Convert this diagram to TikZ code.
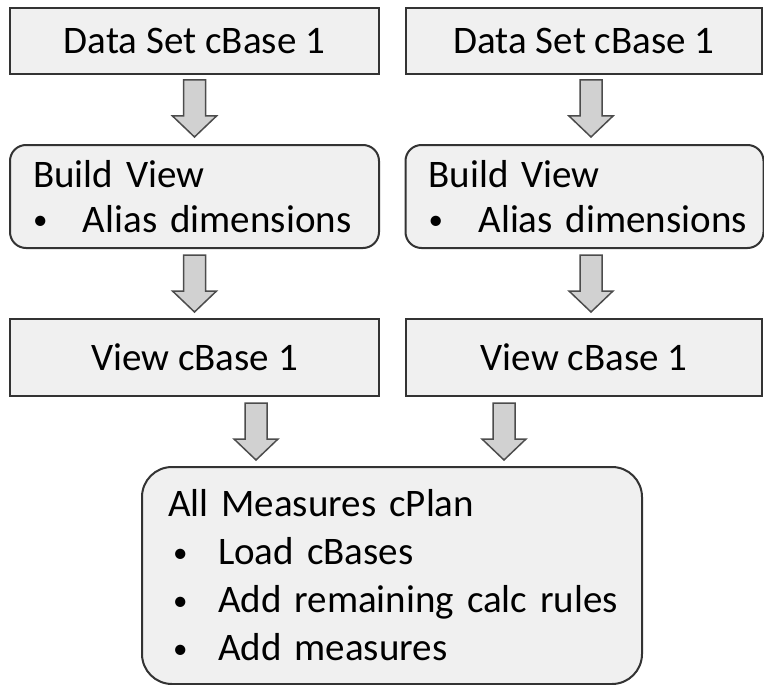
\documentclass[tikz,border=0pt]{standalone}
\usepackage{fontspec}
\setmainfont{Carlito}
\usetikzlibrary{calc}
\tikzstyle{databox} = [rectangle, minimum height=66pt, text centered, draw=black!80, line width=2pt, fill=gray!12, font=\fontsize{39}{45}\selectfont]
\tikzstyle{buildbox} = [rectangle, rounded corners=16pt, minimum height=103pt, draw=black!80, line width=2pt, fill=gray!12, align=left, inner xsep=23pt, font=\fontsize{39}{45}\selectfont]
\tikzstyle{planbox} = [buildbox, rounded corners=30pt, minimum height=217pt, inner xsep=26pt, font=\fontsize{39}{48}\selectfont]
\tikzstyle{flowarrow} = [draw=black!70, line width=1.5pt, fill=gray!36, to path={let \p1=(\tikztostart), \p2=(\tikztotarget) in (\x1-11pt,\y1) -- (\x1+11pt,\y1) -- (\x1+11pt,\y2+21pt) -- (\x1+22pt,\y2+21pt) -- (\x1,\y2) -- (\x1-22pt,\y2+21pt) -- (\x1-11pt,\y2+21pt) -- cycle}]
\newcommand{\bulletline}[2][0pt]{\mbox{\makebox[50pt][l]{\hspace{#1}\raisebox{2.5pt}{\fontsize{29}{29}\selectfont\textbullet}}#2}}

\begin{document}
\begin{tikzpicture}[x=1pt,y=-1pt]
    \useasboundingbox (0,0) rectangle (764,685);
    \node (data1) [databox, minimum width=369pt] at (194.5,41) {Data Set cBase 1};
    \node (data2) [databox, minimum width=356pt] at (584,41) {Data Set cBase 1};
    \node (build1) [buildbox, text width=323pt] at (194.5,196.5) {Build View\\\bulletline{Alias dimensions}};
    \node (build2) [buildbox, text width=312pt] at (584.5,196.5) {Build View\\\bulletline{Alias dimensions}};
    \node (view1) [databox, minimum width=369pt, minimum height=77pt] at (194.5,357.5) {View cBase 1};
    \node (view2) [databox, minimum width=356pt, minimum height=77pt] at (584,357.5) {View cBase 1};
    \node (plan) [planbox, text width=448pt] at (392,575.5) {All Measures cPlan\\\bulletline[5pt]{Load cBases}\\\bulletline[5pt]{Add remaining calc rules}\\\bulletline[5pt]{Add measures}};

    \draw [flowarrow] ($(data1.south)+(0,5)$) to ($(build1.north)+(0,-7)$);
    \draw [flowarrow] ($(data2.south)+(7,5)$) to ($(build2.north)+(7,-7)$);
    \draw [flowarrow] ($(build1.south)+(0,6)$) to ($(view1.north)+(0,-6)$);
    \draw [flowarrow] ($(build2.south)+(6.5,6)$) to ($(view2.north)+(6.5,-6)$);
    \draw [flowarrow] ($(view1.south)+(61.5,6)$) to ($(plan.north)+(-136,-6)$);
    \draw [flowarrow] ($(view2.south)+(-80,6)$) to ($(plan.north)+(112,-6)$);
\end{tikzpicture}
\end{document}
